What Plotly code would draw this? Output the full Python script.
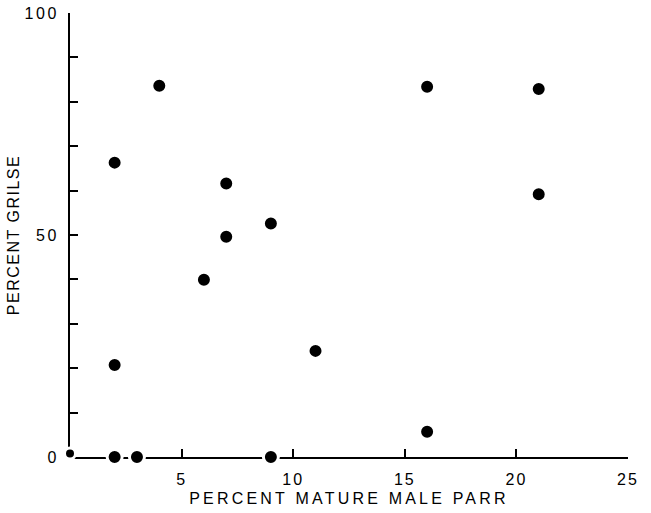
import plotly.graph_objects as go

# Data (percent mature male parr vs percent grilse)
parr_pct = [2, 3, 9, 2, 2, 4, 6, 7, 7, 9, 11, 16, 16, 21, 21]
grilse_pct = [0, 0, 0, 66.3, 20.7, 83.6, 39.9, 49.6, 61.6, 52.6, 23.9, 83.4, 5.7, 82.9, 59.2]

# Small point at the origin
origin_parr = [0]
origin_grilse = [0.8]

x_tickvals = [5, 10, 15, 20, 25]
x_ticktext = ["5", "10", "15", "20", "25"]
y_tickvals = [0, 10, 20, 30, 40, 50, 60, 70, 80, 90, 100]
y_ticktext = ["0", "", "", "", "", "50", "", "", "", "", "100"]

x_title = "PERCENT MATURE MALE PARR"
y_title = "PERCENT GRILSE"

FONT = "Liberation Sans, Arial, sans-serif"


def spaced(text, px):
    if not text:
        return text
    return f'<span style="letter-spacing:{px}px">{text}</span>'


fig = go.Figure()
fig.add_trace(go.Scatter(
    x=parr_pct, y=grilse_pct, mode="markers",
    marker=dict(color="black", size=15, line=dict(color="white", width=3)),
    cliponaxis=False, showlegend=False,
))
fig.add_trace(go.Scatter(
    x=origin_parr, y=origin_grilse, mode="markers",
    marker=dict(color="black", size=11, line=dict(color="white", width=3)),
    cliponaxis=False, showlegend=False,
))

fig.update_layout(
    width=651, height=513,
    margin=dict(l=70, r=23, t=13, b=56),
    paper_bgcolor="white", plot_bgcolor="white",
    font=dict(family=FONT, size=15, color="black"),
)
fig.update_xaxes(
    range=[0, 25], showgrid=False, zeroline=False, automargin=False,
    showline=True, linecolor="black", linewidth=2, layer="below traces",
    ticks="inside", ticklen=8, tickwidth=2, tickcolor="black",
    tickvals=x_tickvals, ticktext=[spaced(t, 2) for t in x_ticktext],
    ticklabelstandoff=7,
    tickfont=dict(size=16),
    title=dict(text=spaced(x_title, 3.2), font=dict(size=16), standoff=6),
)
fig.update_yaxes(
    range=[0, 100], showgrid=False, zeroline=False, automargin=False,
    showline=True, linecolor="black", linewidth=2, layer="below traces",
    ticks="inside", ticklen=8, tickwidth=2, tickcolor="black",
    tickvals=y_tickvals, ticktext=[spaced(t, 2.5) for t in y_ticktext],
    ticklabelstandoff=6,
    tickfont=dict(size=16),
    title=dict(text=spaced(y_title, 1.5), font=dict(size=16), standoff=1),
)

fig.write_html("out.html")
